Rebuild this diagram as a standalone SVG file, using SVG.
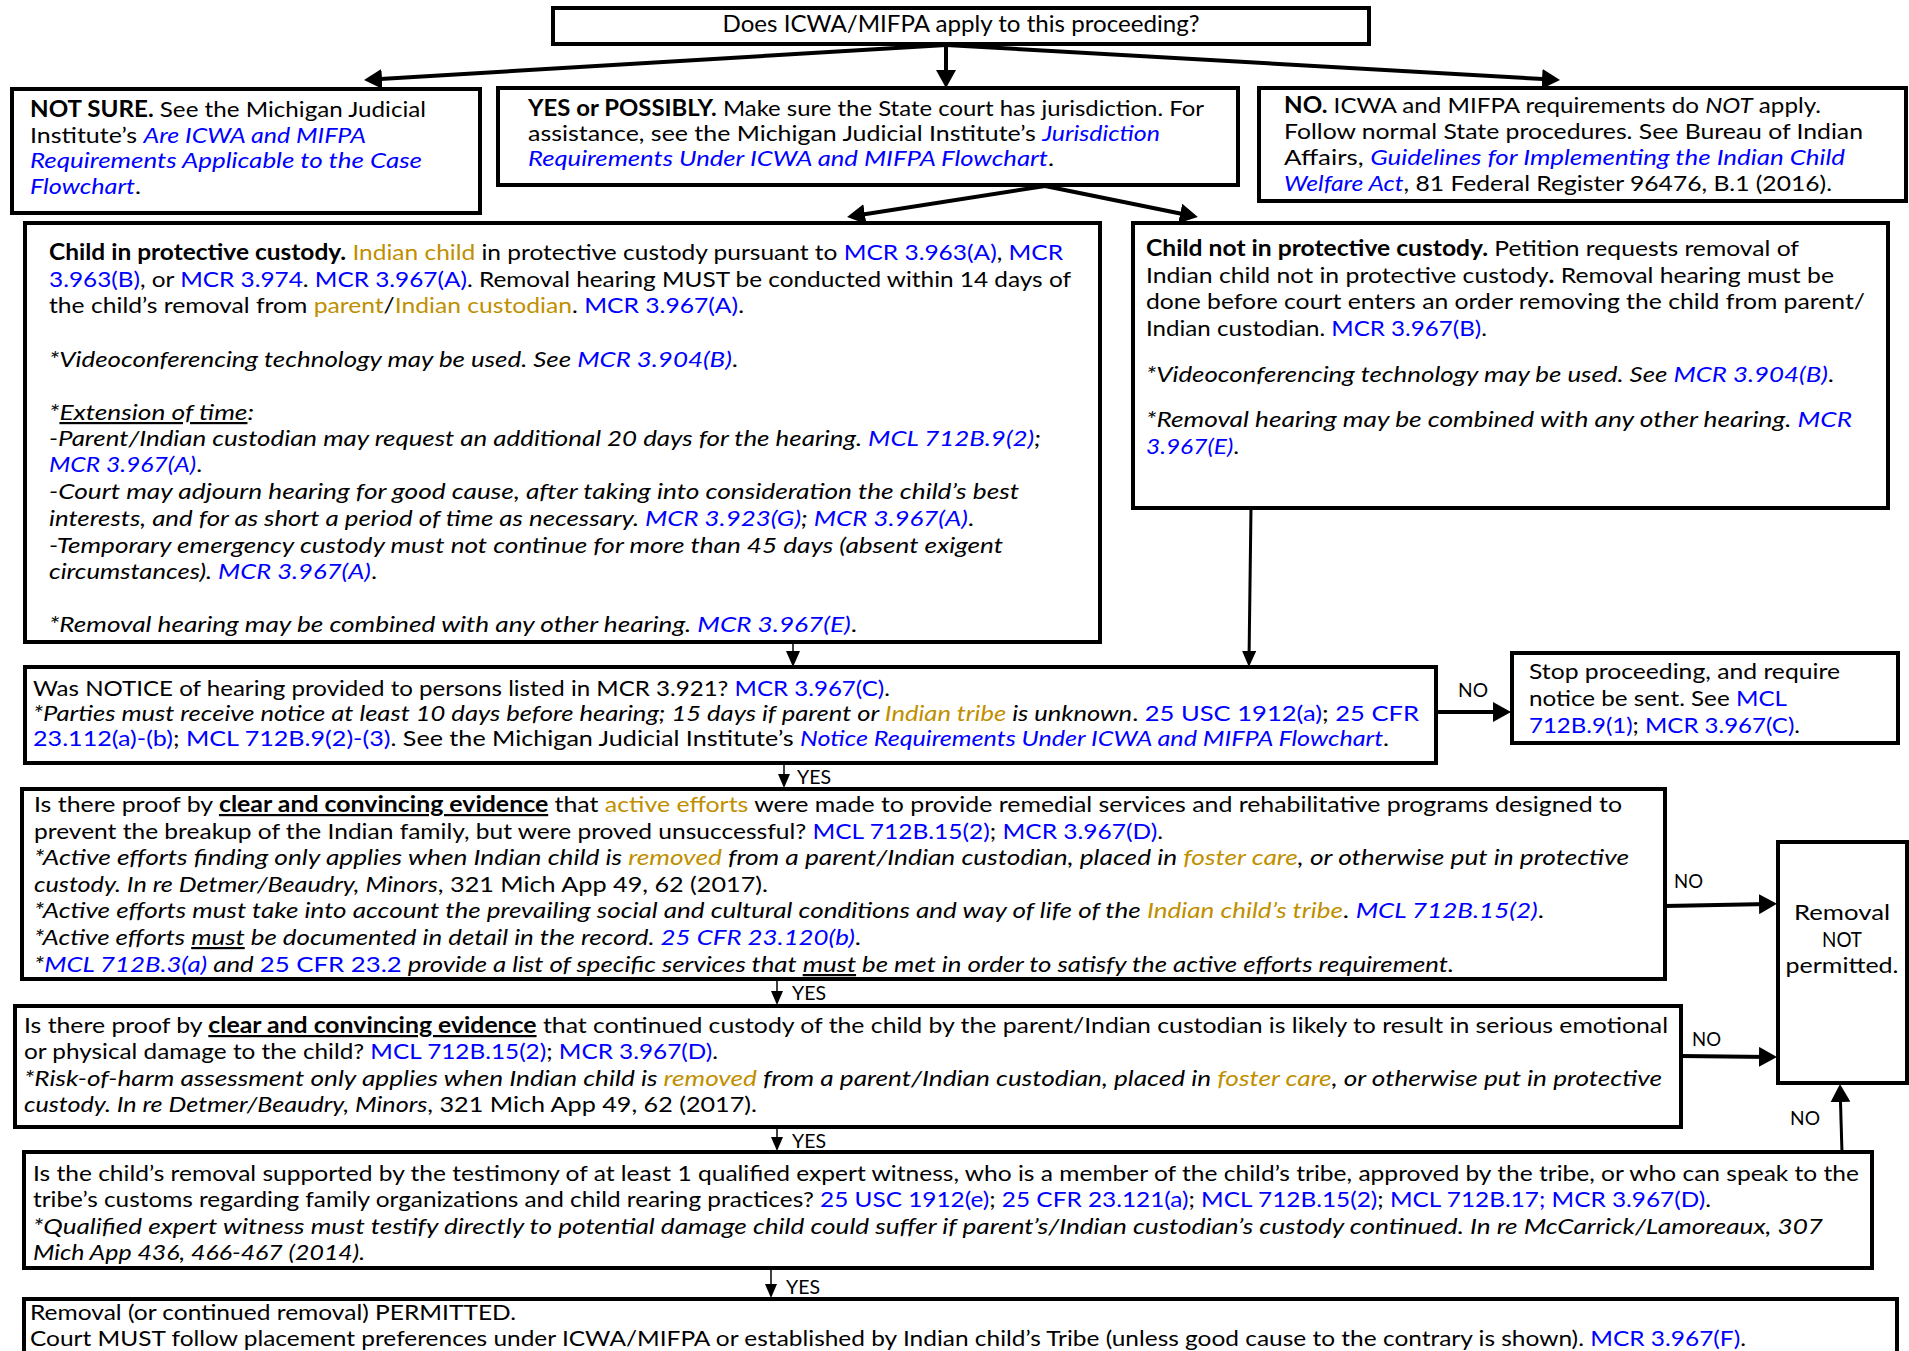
<svg xmlns="http://www.w3.org/2000/svg" width="1909" height="1351" viewBox="0 0 1909 1351">
<style>
.t{font-family:Lato,"Liberation Sans",sans-serif;font-size:22px;fill:#000}
.b{font-weight:700}
.i{font-style:italic}
.u{text-decoration:underline}
.l{fill:#0000FF}
.g{fill:#BF8F00}
.box{fill:#fff;stroke:#000;stroke-width:4}
.c{stroke:#000;fill:none}
.lab{font-family:Lato,"Liberation Sans",sans-serif;font-size:19px;fill:#000}
</style>
<defs>
<marker id="a1" markerUnits="userSpaceOnUse" markerWidth="18" markerHeight="20" refX="10" refY="10" orient="auto"><path d="M0,0 L18,10 L0,20 z" fill="#000"/></marker>
<marker id="a2" markerUnits="userSpaceOnUse" markerWidth="16" markerHeight="14" refX="10" refY="7" orient="auto"><path d="M0,0 L16,7 L0,14 z" fill="#000"/></marker>
<marker id="a3" markerUnits="userSpaceOnUse" markerWidth="14" markerHeight="12" refX="8" refY="6" orient="auto"><path d="M0,0 L14,6 L0,12 z" fill="#000"/></marker>
</defs>
<rect width="1909" height="1351" fill="#fff"/>

<g id="connectors">
<path class="c" stroke-width="4" marker-end="url(#a1)" d="M946,45 L372,79.5"/>
<path class="c" stroke-width="4" marker-end="url(#a1)" d="M946,45 L946,80"/>
<path class="c" stroke-width="4" marker-end="url(#a1)" d="M946,45 L1552,79.5"/>
<path class="c" stroke-width="4" marker-end="url(#a1)" d="M1045,186 L855,215.7"/>
<path class="c" stroke-width="4" marker-end="url(#a1)" d="M1045,186 L1190,215.5"/>
<path class="c" stroke-width="1.5" marker-end="url(#a2)" d="M793,643 L793,661"/>
<path class="c" stroke-width="3" marker-end="url(#a2)" d="M1251,508 L1249,661"/>
<path class="c" stroke-width="4" marker-end="url(#a1)" d="M1438,712 L1503,712"/>
<text class="lab" x="1458" y="697" textLength="30" lengthAdjust="spacingAndGlyphs">NO</text>
<path class="c" stroke-width="1.5" marker-end="url(#a3)" d="M784,764 L784,782"/>
<text class="lab" x="797" y="784" textLength="34" lengthAdjust="spacingAndGlyphs">YES</text>
<path class="c" stroke-width="4" marker-end="url(#a1)" d="M1665,906 L1769,904"/>
<text class="lab" x="1674" y="888" textLength="29" lengthAdjust="spacingAndGlyphs">NO</text>
<path class="c" stroke-width="1.5" marker-end="url(#a3)" d="M777,980 L777,999"/>
<text class="lab" x="792" y="1000" textLength="34" lengthAdjust="spacingAndGlyphs">YES</text>
<path class="c" stroke-width="4" marker-end="url(#a1)" d="M1682,1056 L1769,1057"/>
<text class="lab" x="1692" y="1046" textLength="29" lengthAdjust="spacingAndGlyphs">NO</text>
<path class="c" stroke-width="3" marker-end="url(#a1)" d="M1842,1153 L1840.2,1092"/>
<text class="lab" x="1790" y="1125" textLength="30" lengthAdjust="spacingAndGlyphs">NO</text>
<path class="c" stroke-width="1.5" marker-end="url(#a3)" d="M777,1127 L777,1145"/>
<text class="lab" x="792" y="1148" textLength="34" lengthAdjust="spacingAndGlyphs">YES</text>
<path class="c" stroke-width="1.5" marker-end="url(#a3)" d="M771,1269 L771,1292"/>
<text class="lab" x="786" y="1294" textLength="34" lengthAdjust="spacingAndGlyphs">YES</text>
</g>

<g id="q-apply">
<rect class="box" x="553" y="8" width="816" height="36"/>
<text class="t" x="961" y="32" text-anchor="middle" style="font-size:23px" textLength="477" lengthAdjust="spacingAndGlyphs">Does ICWA/MIFPA apply to this proceeding?</text>
</g>

<g id="not-sure">
<rect class="box" x="12" y="89" width="468" height="124"/>
<text class="t" x="30" y="117" textLength="396" lengthAdjust="spacingAndGlyphs"><tspan class="b">NOT SURE.</tspan> See the Michigan Judicial</text>
<text class="t" x="30" y="143" textLength="336" lengthAdjust="spacingAndGlyphs">Institute’s <tspan class="i l">Are ICWA and MIFPA</tspan></text>
<text class="t i l" x="30" y="168" textLength="392" lengthAdjust="spacingAndGlyphs">Requirements Applicable to the Case</text>
<text class="t" x="30" y="194" textLength="111" lengthAdjust="spacingAndGlyphs"><tspan class="i l">Flowchart</tspan>.</text>
</g>

<g id="yes-possibly">
<rect class="box" x="498" y="88" width="740" height="97"/>
<text class="t" x="528" y="116" textLength="676" lengthAdjust="spacingAndGlyphs"><tspan class="b">YES or POSSIBLY.</tspan> Make sure the State court has jurisdiction. For</text>
<text class="t" x="528" y="141" textLength="632" lengthAdjust="spacingAndGlyphs">assistance, see the Michigan Judicial Institute’s <tspan class="i l">Jurisdiction</tspan></text>
<text class="t" x="528" y="166" textLength="526" lengthAdjust="spacingAndGlyphs"><tspan class="i l">Requirements Under ICWA and MIFPA Flowchart</tspan>.</text>
</g>

<g id="no-apply">
<rect class="box" x="1259" y="88" width="647" height="113"/>
<text class="t" x="1284" y="113" textLength="537" lengthAdjust="spacingAndGlyphs"><tspan class="b">NO.</tspan> ICWA and MIFPA requirements do <tspan class="i">NOT</tspan> apply.</text>
<text class="t" x="1284" y="139" textLength="579" lengthAdjust="spacingAndGlyphs">Follow normal State procedures. See Bureau of Indian</text>
<text class="t" x="1284" y="165" textLength="561" lengthAdjust="spacingAndGlyphs">Affairs, <tspan class="i l">Guidelines for Implementing the Indian Child</tspan></text>
<text class="t" x="1284" y="191" textLength="548" lengthAdjust="spacingAndGlyphs"><tspan class="i l">Welfare Act</tspan>, 81 Federal Register 96476, B.1 (2016).</text>
</g>

<g id="in-custody">
<rect class="box" x="25" y="223" width="1075" height="419"/>
<text class="t" x="49" y="260" textLength="1014" lengthAdjust="spacingAndGlyphs"><tspan class="b">Child in protective custody.</tspan> <tspan class="g">Indian child</tspan> in protective custody pursuant to <tspan class="l">MCR 3.963(A)</tspan>, <tspan class="l">MCR</tspan></text>
<text class="t" x="49" y="287" textLength="1022" lengthAdjust="spacingAndGlyphs"><tspan class="l">3.963(B)</tspan>, or <tspan class="l">MCR 3.974</tspan>. <tspan class="l">MCR 3.967(A)</tspan>. Removal hearing MUST be conducted within 14 days of</text>
<text class="t" x="49" y="313" textLength="695" lengthAdjust="spacingAndGlyphs">the child’s removal from <tspan class="g">parent</tspan>/<tspan class="g">Indian custodian</tspan>. <tspan class="l">MCR 3.967(A)</tspan>.</text>
<text class="t" x="49" y="367" textLength="689" lengthAdjust="spacingAndGlyphs"><tspan class="i">*Videoconferencing technology may be used. See </tspan><tspan class="i l">MCR 3.904(B)</tspan>.</text>
<text class="t i" x="49" y="420" textLength="205" lengthAdjust="spacingAndGlyphs">*<tspan class="u">Extension of time</tspan>:</text>
<text class="t i" x="49" y="446" textLength="992" lengthAdjust="spacingAndGlyphs">-Parent/Indian custodian may request an additional 20 days for the hearing. <tspan class="l">MCL 712B.9(2)</tspan>;</text>
<text class="t" x="49" y="472" textLength="153" lengthAdjust="spacingAndGlyphs"><tspan class="i l">MCR 3.967(A)</tspan>.</text>
<text class="t i" x="49" y="499" textLength="970" lengthAdjust="spacingAndGlyphs">-Court may adjourn hearing for good cause, after taking into consideration the child’s best</text>
<text class="t" x="49" y="526" textLength="925" lengthAdjust="spacingAndGlyphs"><tspan class="i">interests, and for as short a period of time as necessary. </tspan><tspan class="i l">MCR 3.923(G)</tspan><tspan class="i">; </tspan><tspan class="i l">MCR 3.967(A)</tspan>.</text>
<text class="t i" x="49" y="553" textLength="954" lengthAdjust="spacingAndGlyphs">-Temporary emergency custody must not continue for more than 45 days (absent exigent</text>
<text class="t" x="49" y="579" textLength="328" lengthAdjust="spacingAndGlyphs"><tspan class="i">circumstances). </tspan><tspan class="i l">MCR 3.967(A)</tspan>.</text>
<text class="t" x="49" y="632" textLength="808" lengthAdjust="spacingAndGlyphs"><tspan class="i">*Removal hearing may be combined with any other hearing. </tspan><tspan class="i l">MCR 3.967(E)</tspan>.</text>
</g>

<g id="not-in-custody">
<rect class="box" x="1133" y="223" width="755" height="285"/>
<text class="t" x="1146" y="256" textLength="653" lengthAdjust="spacingAndGlyphs"><tspan class="b">Child not in protective custody.</tspan> Petition requests removal of</text>
<text class="t" x="1146" y="283" textLength="688" lengthAdjust="spacingAndGlyphs">Indian child not in protective custody<tspan class="b">.</tspan> Removal hearing must be</text>
<text class="t" x="1146" y="309" textLength="719" lengthAdjust="spacingAndGlyphs">done before court enters an order removing the child from parent/</text>
<text class="t" x="1146" y="336" textLength="341" lengthAdjust="spacingAndGlyphs">Indian custodian. <tspan class="l">MCR 3.967(B)</tspan>.</text>
<text class="t" x="1146" y="382" textLength="688" lengthAdjust="spacingAndGlyphs"><tspan class="i">*Videoconferencing technology may be used. See </tspan><tspan class="i l">MCR 3.904(B)</tspan>.</text>
<text class="t" x="1146" y="427" textLength="706" lengthAdjust="spacingAndGlyphs"><tspan class="i">*Removal hearing may be combined with any other hearing. </tspan><tspan class="i l">MCR</tspan></text>
<text class="t" x="1146" y="454" textLength="93" lengthAdjust="spacingAndGlyphs"><tspan class="i l">3.967(E)</tspan>.</text>
</g>

<g id="notice">
<rect class="box" x="25" y="667" width="1411" height="96"/>
<text class="t" x="33" y="696" textLength="857" lengthAdjust="spacingAndGlyphs">Was NOTICE of hearing provided to persons listed in MCR 3.921? <tspan class="l">MCR 3.967(C)</tspan>.</text>
<text class="t" x="33" y="721" textLength="1386" lengthAdjust="spacingAndGlyphs"><tspan class="i">*Parties must receive notice at least 10 days before hearing; 15 days if parent or </tspan><tspan class="i g">Indian tribe</tspan><tspan class="i"> is unknown</tspan>. <tspan class="l">25 USC 1912(a)</tspan>; <tspan class="l">25 CFR</tspan></text>
<text class="t" x="33" y="746" textLength="1356" lengthAdjust="spacingAndGlyphs"><tspan class="l">23.112(a)-(b)</tspan>; <tspan class="l">MCL 712B.9(2)-(3)</tspan>. See the Michigan Judicial Institute’s <tspan class="i l">Notice Requirements Under ICWA and MIFPA Flowchart</tspan>.</text>
</g>

<g id="stop">
<rect class="box" x="1512" y="653" width="386" height="90"/>
<text class="t" x="1529" y="679" textLength="311" lengthAdjust="spacingAndGlyphs">Stop proceeding, and require</text>
<text class="t" x="1529" y="706" textLength="258" lengthAdjust="spacingAndGlyphs">notice be sent. See <tspan class="l">MCL</tspan></text>
<text class="t" x="1529" y="733" textLength="271" lengthAdjust="spacingAndGlyphs"><tspan class="l">712B.9(1)</tspan>; <tspan class="l">MCR 3.967(C)</tspan>.</text>
</g>

<g id="active-efforts">
<rect class="box" x="22" y="789" width="1643" height="190"/>
<text class="t" x="34" y="812" textLength="1588" lengthAdjust="spacingAndGlyphs">Is there proof by <tspan class="b u">clear and convincing evidence</tspan> that <tspan class="g">active efforts</tspan> were made to provide remedial services and rehabilitative programs designed to</text>
<text class="t" x="34" y="839" textLength="1129" lengthAdjust="spacingAndGlyphs">prevent the breakup of the Indian family, but were proved unsuccessful? <tspan class="l">MCL 712B.15(2)</tspan>; <tspan class="l">MCR 3.967(D)</tspan>.</text>
<text class="t i" x="34" y="865" textLength="1595" lengthAdjust="spacingAndGlyphs">*Active efforts finding only applies when Indian child is <tspan class="g">removed</tspan> from a parent/Indian custodian, placed in <tspan class="g">foster care</tspan>, or otherwise put in protective</text>
<text class="t" x="34" y="892" textLength="734" lengthAdjust="spacingAndGlyphs"><tspan class="i">custody. In re Detmer/Beaudry, Minors</tspan>, 321 Mich App 49, 62 (2017).</text>
<text class="t" x="34" y="918" textLength="1510" lengthAdjust="spacingAndGlyphs"><tspan class="i">*Active efforts must take into account the prevailing social and cultural conditions and way of life of the </tspan><tspan class="i g">Indian child’s tribe</tspan>. <tspan class="i l">MCL 712B.15(2)</tspan>.</text>
<text class="t" x="34" y="945" textLength="827" lengthAdjust="spacingAndGlyphs"><tspan class="i">*Active efforts <tspan class="u">must</tspan> be documented in detail in the record. </tspan><tspan class="i l">25 CFR 23.120(b)</tspan>.</text>
<text class="t i" x="34" y="972" textLength="1420" lengthAdjust="spacingAndGlyphs">*<tspan class="l">MCL 712B.3(a)</tspan> and <tspan class="l" style="font-style:normal">25 CFR 23.2</tspan> provide a list of specific services that <tspan class="u">must</tspan> be met in order to satisfy the active efforts requirement.</text>
</g>

<g id="risk-harm">
<rect class="box" x="15" y="1006" width="1666" height="121"/>
<text class="t" x="24" y="1033" textLength="1644" lengthAdjust="spacingAndGlyphs">Is there proof by <tspan class="b u">clear and convincing evidence</tspan> that continued custody of the child by the parent/Indian custodian is likely to result in serious emotional</text>
<text class="t" x="24" y="1059" textLength="694" lengthAdjust="spacingAndGlyphs">or physical damage to the child? <tspan class="l">MCL 712B.15(2)</tspan>; <tspan class="l">MCR 3.967(D)</tspan>.</text>
<text class="t i" x="24" y="1086" textLength="1638" lengthAdjust="spacingAndGlyphs">*Risk-of-harm assessment only applies when Indian child is <tspan class="g">removed</tspan> from a parent/Indian custodian, placed in <tspan class="g">foster care</tspan>, or otherwise put in protective</text>
<text class="t" x="24" y="1112" textLength="733" lengthAdjust="spacingAndGlyphs"><tspan class="i">custody. In re Detmer/Beaudry, Minors</tspan>, 321 Mich App 49, 62 (2017).</text>
</g>

<g id="not-permitted">
<rect class="box" x="1778" y="842" width="129" height="241"/>
<text class="t" x="1842" y="920" text-anchor="middle" textLength="96" lengthAdjust="spacingAndGlyphs">Removal</text>
<text class="t" x="1842" y="947" text-anchor="middle" textLength="40" lengthAdjust="spacingAndGlyphs">NOT</text>
<text class="t" x="1842" y="973" text-anchor="middle" textLength="113" lengthAdjust="spacingAndGlyphs">permitted.</text>
</g>

<g id="expert-witness">
<rect class="box" x="24" y="1152" width="1848" height="116"/>
<text class="t" x="33" y="1181" textLength="1826" lengthAdjust="spacingAndGlyphs">Is the child’s removal supported by the testimony of at least 1 qualified expert witness, who is a member of the child’s tribe, approved by the tribe, or who can speak to the</text>
<text class="t" x="33" y="1207" textLength="1678" lengthAdjust="spacingAndGlyphs">tribe’s customs regarding family organizations and child rearing practices? <tspan class="l">25 USC 1912(e)</tspan>; <tspan class="l">25 CFR 23.121(a)</tspan>; <tspan class="l">MCL 712B.15(2)</tspan>; <tspan class="l">MCL 712B.17; MCR 3.967(D)</tspan>.</text>
<text class="t i" x="33" y="1234" textLength="1790" lengthAdjust="spacingAndGlyphs">*Qualified expert witness must testify directly to potential damage child could suffer if parent’s/Indian custodian’s custody continued. In re McCarrick/Lamoreaux, 307</text>
<text class="t i" x="33" y="1260" textLength="332" lengthAdjust="spacingAndGlyphs">Mich App 436, 466-467 (2014).</text>
</g>

<g id="permitted">
<rect class="box" x="24" y="1299" width="1873" height="100"/>
<text class="t" x="30" y="1320" textLength="486" lengthAdjust="spacingAndGlyphs">Removal (or continued removal) PERMITTED.</text>
<text class="t" x="30" y="1346" textLength="1716" lengthAdjust="spacingAndGlyphs">Court MUST follow placement preferences under ICWA/MIFPA or established by Indian child’s Tribe (unless good cause to the contrary is shown). <tspan class="l">MCR 3.967(F)</tspan>.</text>
</g>
</svg>
